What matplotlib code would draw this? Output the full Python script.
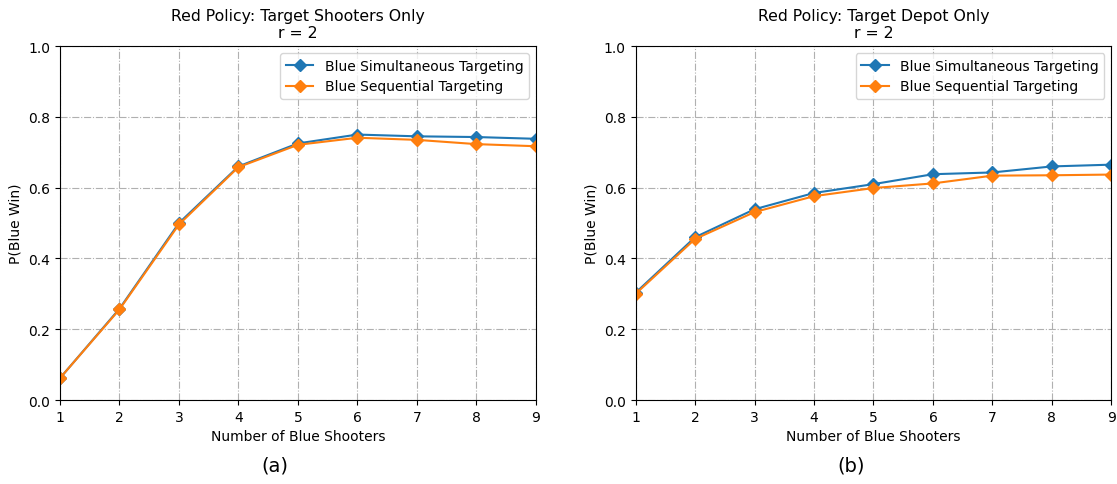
import numpy as np
import matplotlib
matplotlib.use("Agg")
import matplotlib.pyplot as plt

# number of blue shooters
shooters = [1, 2, 3, 4, 5, 6, 7, 8, 9]

# Red policy: target shooters only
shooters_sim = [0.062, 0.258, 0.500, 0.660, 0.725, 0.750, 0.745, 0.743, 0.738]
shooters_seq = [0.062, 0.256, 0.496, 0.658, 0.721, 0.741, 0.735, 0.723, 0.717]

# Red policy: target depot only
depot_sim = [0.303, 0.460, 0.539, 0.585, 0.610, 0.638, 0.643, 0.660, 0.665]
depot_seq = [0.300, 0.455, 0.531, 0.576, 0.599, 0.612, 0.634, 0.635, 0.637]

titles = ["Red Policy: Target Shooters Only\nr = 2", "Red Policy: Target Depot Only\nr = 2"]
captions = ["(a)", "(b)"]
caption_x = [0.246, 0.762]

fig = plt.figure(figsize=(11.17, 4.85), dpi=100)
ax1 = fig.add_axes([0.0537, 0.173, 0.426, 0.730])
ax2 = fig.add_axes([0.569, 0.173, 0.426, 0.730])

for ax, sim, seq, title, cap, cx in zip([ax1, ax2], [shooters_sim, depot_sim],
                                        [shooters_seq, depot_seq], titles, captions, caption_x):
    ax.plot(shooters, sim, marker='D', markersize=6, lw=1.5, color='#1f77b4',
            label='Blue Simultaneous Targeting')
    ax.plot(shooters, seq, marker='D', markersize=6, lw=1.5, color='#ff7f0e',
            label='Blue Sequential Targeting')
    ax.set_xlim(1, 9)
    ax.set_ylim(0, 1.0)
    ax.set_xticks(shooters)
    ax.grid(True, linestyle='-.', color='#b0b0b0', lw=0.8)
    ax.set_title(title, fontsize=11.3, pad=6.5)
    ax.set_xlabel('Number of Blue Shooters')
    ax.set_ylabel('P(Blue Win)')
    ax.legend(loc='upper right')
    fig.text(cx, 0.04, cap, ha='center', va='center', fontsize=14)

fig.savefig('out.png', dpi=100)
